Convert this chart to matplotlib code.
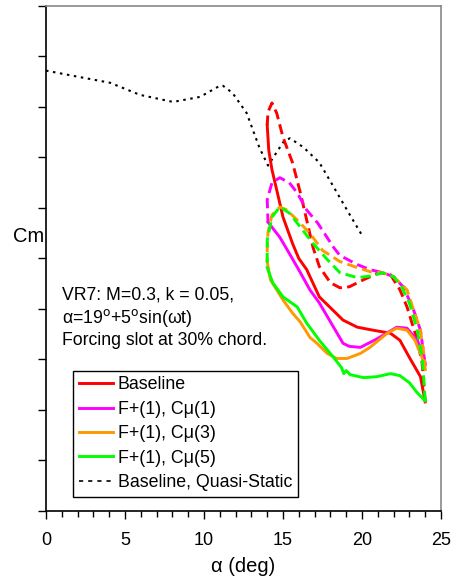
import matplotlib
matplotlib.use("Agg")
import matplotlib.pyplot as plt
from matplotlib.ticker import MultipleLocator

plt.rcParams['font.family'] = ['Liberation Sans', 'DejaVu Sans']

# quasi-static baseline
qs_alpha = [0.0, 2.0, 4.05, 5.95, 8.04, 9.75, 11.0, 11.2, 11.8, 12.7, 13.1, 13.5, 14.05,
            14.8, 15.1, 15.45, 16.3, 17.3, 18.2, 19.05, 20.0]
qs_cm = [-0.064, -0.070, -0.076, -0.088, -0.095, -0.090, -0.079, -0.079, -0.086, -0.106,
         -0.123, -0.140, -0.158, -0.140, -0.133, -0.131, -0.140, -0.155, -0.179, -0.202, -0.227]

# baseline, upstroke (solid) and downstroke (dashed)
base_up_a = [14.0, 14.1, 14.3, 14.6, 15.0, 15.6, 16.0, 16.5, 17.3, 18.8, 19.7, 20.7, 21.8,
             22.4, 23.0, 23.7, 24.0]
base_up_c = [-0.118, -0.143, -0.162, -0.182, -0.209, -0.235, -0.250, -0.261, -0.288, -0.311,
             -0.318, -0.321, -0.324, -0.331, -0.348, -0.367, -0.392]
base_dn_a = [24.0, 23.8, 23.5, 22.85, 22.4, 21.8, 21.1, 20.1, 19.2, 18.6, 18.0, 17.3, 16.9,
             16.5, 16.1, 15.6, 15.0, 14.6, 14.3, 14.05, 14.0]
base_dn_c = [-0.392, -0.353, -0.331, -0.298, -0.281, -0.266, -0.264, -0.271, -0.278, -0.279,
             -0.274, -0.258, -0.239, -0.212, -0.185, -0.155, -0.130, -0.106, -0.096, -0.105, -0.118]

# F+(1), Cmu(1)
c1_up_a = [14.05, 14.8, 15.4, 16.1, 16.7, 17.3, 18.2, 18.8, 19.2, 19.9, 20.9, 22.2, 22.85,
           23.5, 23.85, 24.0]
c1_up_c = [-0.214, -0.229, -0.245, -0.264, -0.281, -0.294, -0.318, -0.334, -0.337, -0.338,
           -0.330, -0.318, -0.319, -0.331, -0.344, -0.355]
c1_dn_a = [24.0, 23.7, 23.2, 22.6, 22.0, 21.3, 20.5, 19.7, 18.6, 18.2, 17.2, 16.5, 15.9,
           15.4, 14.8, 14.3, 14.0, 14.05]
c1_dn_c = [-0.355, -0.321, -0.298, -0.278, -0.268, -0.264, -0.261, -0.256, -0.247, -0.239,
           -0.215, -0.202, -0.185, -0.175, -0.170, -0.175, -0.192, -0.214]

# F+(1), Cmu(3)
c3_up_a = [14.0, 14.2, 14.6, 15.0, 15.6, 16.1, 16.7, 17.15, 17.8, 18.4, 19.05, 19.9, 20.5,
           21.6, 22.2, 22.85, 23.35, 23.8, 24.0]
c3_up_c = [-0.253, -0.271, -0.281, -0.291, -0.304, -0.313, -0.328, -0.334, -0.344, -0.349,
           -0.349, -0.344, -0.338, -0.324, -0.319, -0.321, -0.331, -0.348, -0.360]
c3_dn_a = [24.0, 23.95, 23.7, 23.2, 22.85, 22.0, 21.3, 20.7, 19.7, 18.6, 17.5, 16.7, 15.9,
           15.25, 14.8, 14.3, 14.05, 14.0, 14.0]
c3_dn_c = [-0.360, -0.348, -0.321, -0.298, -0.281, -0.268, -0.264, -0.264, -0.259, -0.253,
           -0.242, -0.225, -0.212, -0.202, -0.199, -0.207, -0.224, -0.242, -0.253]

# F+(1), Cmu(5)
c5_up_a = [14.0, 14.35, 15.0, 15.9, 16.5, 17.3, 18.2, 18.7, 18.85, 19.0, 19.25, 20.1, 20.95,
           21.8, 22.4, 23.0, 23.5, 24.0]
c5_up_c = [-0.259, -0.274, -0.288, -0.298, -0.314, -0.331, -0.348, -0.358, -0.364, -0.361,
           -0.365, -0.368, -0.367, -0.364, -0.366, -0.373, -0.383, -0.391]
c5_dn_a = [24.0, 23.9, 23.8, 23.5, 23.0, 22.5, 22.0, 21.3, 20.7, 19.7, 18.6, 17.8, 16.9,
           16.1, 15.4, 14.8, 14.3, 14.0, 14.0]
c5_dn_c = [-0.391, -0.367, -0.348, -0.321, -0.294, -0.278, -0.268, -0.264, -0.267, -0.269,
           -0.264, -0.251, -0.235, -0.219, -0.205, -0.199, -0.209, -0.232, -0.259]

RED, MAG, ORA, GRN = '#ff0000', '#ff00ff', '#ff9900', '#00ff00'
dash = (0, (3.5, 1.8))

fig = plt.figure(figsize=(4.56, 5.81), dpi=100)
ax = fig.add_axes([0.1009, 0.1205, 0.8662, 0.8692])

ax.plot(qs_alpha, qs_cm, color='black', lw=1.5, ls=(0, (1.2, 2.2)))
for (ua, uc, da, dc, col) in [
        (base_up_a, base_up_c, base_dn_a, base_dn_c, RED),
        (c1_up_a, c1_up_c, c1_dn_a, c1_dn_c, MAG),
        (c3_up_a, c3_up_c, c3_dn_a, c3_dn_c, ORA),
        (c5_up_a, c5_up_c, c5_dn_a, c5_dn_c, GRN)]:
    ax.plot(ua, uc, color=col, lw=2.1)
    ax.plot(da, dc, color=col, lw=2.1, ls=dash)

# legend handles
hs = []
for col, lab in [(RED, 'Baseline'), (MAG, 'F+(1), C\u03bc(1)'), (ORA, 'F+(1), C\u03bc(3)'),
                 (GRN, 'F+(1), C\u03bc(5)')]:
    hs.append(ax.plot([], [], color=col, lw=2.1, label=lab)[0])
hs.append(ax.plot([], [], color='black', lw=1.2, ls=(0, (2.5, 3)), label='Baseline, Quasi-Static')[0])
leg = ax.legend(handles=hs, loc='lower left', bbox_to_anchor=(0.068, 0.028), fontsize=12.8,
                frameon=True, fancybox=False, edgecolor='black', framealpha=1,
                handlelength=1.95, handletextpad=0.25, labelspacing=0.42, borderpad=0.32,
                borderaxespad=0)
leg.get_frame().set_linewidth(1.0)

ax.text(0.04, 0.444, 'VR7: M=0.3, k = 0.05,\n\u03b1=19$^{\\rm o}$+5$^{\\rm o}$sin(\u03c9t)\nForcing slot at 30% chord.',
        transform=ax.transAxes, fontsize=12.7, va='top', ha='left', linespacing=1.2)

ax.set_xlim(0, 25)
ax.set_ylim(-0.5, 0.0)
ax.xaxis.set_major_locator(MultipleLocator(5))
ax.xaxis.set_minor_locator(MultipleLocator(1))
ax.yaxis.set_major_locator(MultipleLocator(0.05))
ax.set_yticklabels([])
ax.tick_params(axis='x', which='major', direction='out', length=6, width=1, labelsize=13, pad=9)
ax.tick_params(axis='x', which='minor', direction='out', length=4, width=1)
ax.tick_params(axis='y', which='major', direction='out', length=6, width=1)
ax.tick_params(top=False, right=False)

for s in ['top', 'right']:
    ax.spines[s].set_color('#888888')
    ax.spines[s].set_linewidth(1.2)
for s in ['left', 'bottom']:
    ax.spines[s].set_color('black')
    ax.spines[s].set_linewidth(1.2)

ax.set_xlabel('\u03b1 (deg)', fontsize=14.5, labelpad=6)
ax.set_ylabel('Cm', fontsize=14.5, rotation=0, ha='right', va='center')
ax.yaxis.set_label_coords(-0.004, 0.5426)

fig.savefig('out.png', dpi=100)
